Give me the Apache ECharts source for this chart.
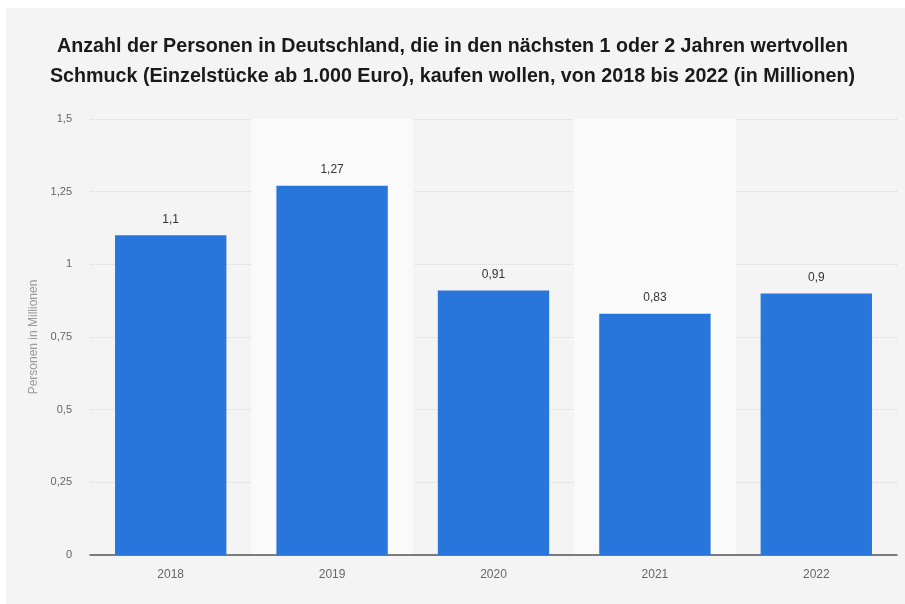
<!DOCTYPE html>
<html>
<head>
<meta charset="utf-8">
<script src="https://cdn.jsdelivr.net/npm/echarts@6/dist/echarts.min.js"></script>
<style>
  html, body { margin: 0; padding: 0; background: #ffffff; }
  #chart { width: 905px; height: 604px; }
</style>
</head>
<body>
<div id="chart"></div>
<script>
// Kaufabsicht für wertvollen Schmuck, 2018–2022 (in Millionen)
const years = ['2018', '2019', '2020', '2021', '2022'];
const personen = [1.1, 1.27, 0.91, 0.83, 0.9];
const yTicks = [0, 0.25, 0.5, 0.75, 1, 1.25, 1.5];

const deNum = v => String(v).replace('.', ',');
const FONT = 'Liberation Sans, Arial, sans-serif';

const chart = echarts.init(document.getElementById('chart'));
chart.setOption({
  backgroundColor: '#f4f4f4',
  animation: false,
  // thin white frame along the top and left edges
  graphic: [
    { type: 'rect', left: 0, top: 0, shape: { width: 905, height: 8 }, style: { fill: '#ffffff' }, silent: true },
    { type: 'rect', left: 0, top: 0, shape: { width: 6, height: 604 }, style: { fill: '#ffffff' }, silent: true }
  ],
  title: {
    text: 'Anzahl der Personen in Deutschland, die in den nächsten 1 oder 2 Jahren wertvollen\nSchmuck (Einzelstücke ab 1.000 Euro), kaufen wollen, von 2018 bis 2022 (in Millionen)',
    left: 'center',
    top: 27,
    textStyle: {
      fontFamily: FONT,
      fontSize: 19.7,
      fontWeight: 'bold',
      color: '#1a1a1a',
      lineHeight: 30
    }
  },
  grid: { left: 90, right: 8, top: 119, bottom: 49 },
  xAxis: {
    type: 'category',
    data: years,
    axisLine: { lineStyle: { color: '#555', width: 1.5 } },
    axisTick: { show: false },
    axisLabel: { color: '#666', fontSize: 12, margin: 14, fontFamily: FONT },
    splitArea: { show: true, areaStyle: { color: ['rgba(0,0,0,0)', '#fafafa'] } }
  },
  yAxis: {
    type: 'value',
    min: yTicks[0],
    max: yTicks[yTicks.length - 1],
    interval: 0.25,
    name: 'Personen in Millionen',
    nameLocation: 'middle',
    nameGap: 50,
    nameTextStyle: { color: '#999', fontSize: 12, fontFamily: FONT },
    axisLine: { show: false },
    axisTick: { show: false },
    axisLabel: {
      color: '#666', fontSize: 11, margin: 18,
      fontFamily: FONT,
      formatter: v => deNum(v)
    },
    splitLine: { lineStyle: { color: '#d8d8d8', type: 'dotted' } }
  },
  series: [{
    type: 'bar',
    data: personen,
    barWidth: '69%',
    itemStyle: { color: '#2875dc' },
    label: {
      show: true,
      position: 'top',
      distance: 10,
      color: '#333',
      fontSize: 12,
      fontFamily: FONT,
      formatter: p => deNum(p.value)
    }
  }]
});
</script>
</body>
</html>
